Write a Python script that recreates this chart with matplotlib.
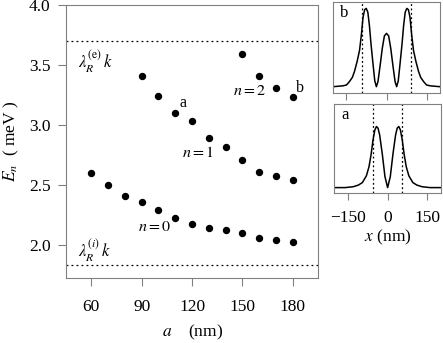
import numpy as np
import matplotlib
matplotlib.use("Agg")
import matplotlib.pyplot as plt

plt.rcParams['font.family'] = ['Liberation Serif', 'DejaVu Serif']
plt.rcParams['mathtext.fontset'] = 'stix'
plt.rcParams['font.size'] = 11

# energy levels vs a (nm)
a_n0 = [60, 70, 80, 90, 100, 110, 120, 130, 140, 150, 160, 170, 180]
E_n0 = [2.60, 2.50, 2.41, 2.36, 2.29, 2.22, 2.17, 2.14, 2.12, 2.10, 2.06, 2.04, 2.02]
a_n1 = [90, 100, 110, 120, 130, 140, 150, 160, 170, 180]
E_n1 = [3.41, 3.24, 3.10, 3.03, 2.89, 2.82, 2.71, 2.61, 2.575, 2.54]
a_n2 = [150, 160, 170, 180]
E_n2 = [3.59, 3.41, 3.31, 3.235]

lam_e = 3.70
lam_i = 1.83

# density profiles
x_a = [-200, -160, -130, -110, -95, -80, -70, -62, -55, -48, -42, -36, -30, -20, -10, 0,
       10, 20, 30, 36, 42, 48, 55, 62, 70, 80, 95, 110, 130, 160, 200]
rho_a = [0.0, 0.0, 0.01, 0.03, 0.06, 0.14, 0.25, 0.40, 0.57, 0.69, 0.73, 0.71, 0.63, 0.40, 0.13, 0.0,
         0.13, 0.40, 0.63, 0.71, 0.73, 0.69, 0.57, 0.40, 0.25, 0.14, 0.06, 0.03, 0.01, 0.0, 0.0]
x_b = [-200, -164, -150, -139, -128, -120, -110, -101, -94, -88, -82, -76, -70, -64, -58, -50,
       -44, -38, -32, -24, -16, -8, 0, 8, 16, 24, 32, 38, 44, 50, 58, 64, 70, 76, 82, 88, 94,
       101, 110, 120, 128, 139, 150, 164, 200]
rho_b = [0.0, 0.01, 0.02, 0.06, 0.11, 0.18, 0.30, 0.43, 0.62, 0.82, 0.91, 0.925, 0.88, 0.72, 0.50, 0.25,
         0.07, 0.0, 0.06, 0.25, 0.45, 0.60, 0.63, 0.60, 0.45, 0.25, 0.06, 0.0, 0.07, 0.25, 0.50, 0.72,
         0.88, 0.925, 0.91, 0.82, 0.62, 0.43, 0.30, 0.18, 0.11, 0.06, 0.02, 0.01, 0.0]

spine_col = '#808080'

fig = plt.figure(figsize=(4.43, 3.43), dpi=100)
ax = fig.add_axes([0.149, 0.190, 0.569, 0.795])

for xs, ys in [(a_n0, E_n0), (a_n1, E_n1), (a_n2, E_n2)]:
    ax.plot(xs, ys, 'o', color='black', markersize=4.3, linestyle='none')

ax.axhline(lam_e, color='black', linestyle=(0, (1.5, 2.5)), lw=0.9)
ax.axhline(lam_i, color='black', linestyle=(0, (1.5, 2.5)), lw=0.9)

ax.set_xlim(45, 195)
ax.set_ylim(1.724, 4.0)
ax.set_xticks([60, 90, 120, 150, 180])
ax.set_yticks([2.0, 2.5, 3.0, 3.5, 4.0])
ax.set_yticklabels(['2.0', '2.5', '3.0', '3.5', '4.0'])
ax.tick_params(direction='out', length=6, width=0.8, color=spine_col, labelsize=12.5, pad=5)
ax.tick_params(axis='x', pad=9)
for s in ax.spines.values():
    s.set_color(spine_col)

ax.text(52, 3.53, r'$\lambda_R^{(\mathrm{e})}\,k$', fontsize=12, va='center')
ax.text(52, 1.95, r'$\lambda_R^{(i)}\,k$', fontsize=12, va='center')
ax.text(114.5, 3.18, 'a', fontsize=11.5, va='center', ha='center')
ax.text(184.5, 3.31, 'b', fontsize=11.5, va='center', ha='center')
ax.text(154.2, 3.285, r'$n=2$', fontsize=11.5, va='center', ha='center')
ax.text(123.4, 2.77, r'$n=1$', fontsize=11.5, va='center', ha='center')
ax.text(97.9, 2.15, r'$n=0$', fontsize=11.5, va='center', ha='center')

ax.set_ylabel(r'$E_n$  ( meV )', fontsize=12.5, labelpad=6)
ax.set_xlabel(r'$\mathit{a}$    (nm)', fontsize=12.5, labelpad=6)

# insets
axb = fig.add_axes([0.752, 0.730, 0.241, 0.264])
axa = fig.add_axes([0.755, 0.436, 0.240, 0.261])
for axi, xs, ys, half, lab in [(axb, x_b, rho_b, 90, 'b'), (axa, x_a, rho_a, 55, 'a')]:
    axi.plot(xs, ys, color='black', lw=1.1)
    axi.axvline(-half, color='black', linestyle=(0, (1.5, 2)), lw=0.9)
    axi.axvline(half, color='black', linestyle=(0, (1.5, 2)), lw=0.9)
    axi.set_xlim(-200, 200)
    axi.set_ylim(-0.07, 1.0)
    axi.set_yticks([])
    axi.set_xticks([-150, 0, 150])
    axi.tick_params(direction='out', length=5, width=0.8, color=spine_col, labelsize=12.5, pad=7)
    for s in axi.spines.values():
        s.set_color(spine_col)
    axi.text(0.1, 0.88, lab, transform=axi.transAxes, fontsize=12, va='center', ha='center')

axb.set_xticklabels([])
axa.set_xticklabels(['\u2212150', '0', '150'])
axa.set_xlabel(r'$x$ (nm)', fontsize=12.5, labelpad=1)

fig.savefig('out.png', dpi=100)
